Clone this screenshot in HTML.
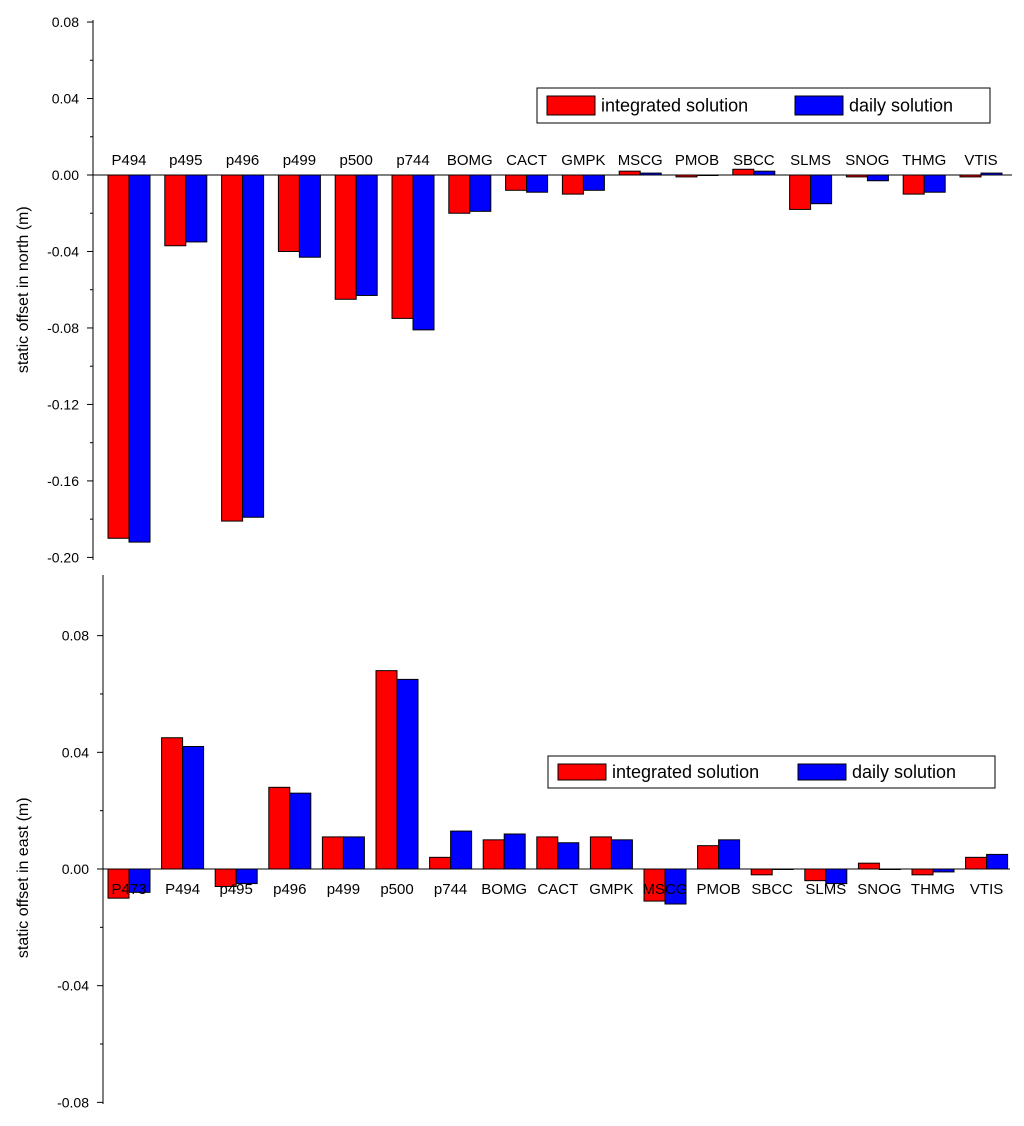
<!DOCTYPE html>
<html><head><meta charset="utf-8"><style>
html,body{margin:0;padding:0;background:#fff;}
svg text{font-family:"Liberation Sans",sans-serif;fill:#000;}
</style></head><body>
<svg id="chart" width="1024" height="1121" xmlns="http://www.w3.org/2000/svg"></svg>
<script>
const northStations=["P494","p495","p496","p499","p500","p744","BOMG","CACT","GMPK","MSCG","PMOB","SBCC","SLMS","SNOG","THMG","VTIS"];
const northIntegrated=[-0.190,-0.037,-0.181,-0.040,-0.065,-0.075,-0.020,-0.008,-0.010,0.002,-0.001,0.003,-0.018,-0.001,-0.010,-0.001];
const northDaily=[-0.192,-0.035,-0.179,-0.043,-0.063,-0.081,-0.019,-0.009,-0.008,0.001,0.0,0.002,-0.015,-0.003,-0.009,0.001];
const northTicks=[0.08,0.04,0.00,-0.04,-0.08,-0.12,-0.16,-0.20];
const eastStations=["P473","P494","p495","p496","p499","p500","p744","BOMG","CACT","GMPK","MSCG","PMOB","SBCC","SLMS","SNOG","THMG","VTIS"];
const eastIntegrated=[-0.010,0.045,-0.006,0.028,0.011,0.068,0.004,0.010,0.011,0.011,-0.011,0.008,-0.002,-0.004,0.002,-0.002,0.004];
const eastDaily=[-0.008,0.042,-0.005,0.026,0.011,0.065,0.013,0.012,0.009,0.010,-0.012,0.010,0.000,-0.005,0.000,-0.001,0.005];
const eastTicks=[0.08,0.04,0.00,-0.04,-0.08];

const svg=document.getElementById('chart');
const NS='http://www.w3.org/2000/svg';
function mk(tag,attrs,parent){const e=document.createElementNS(NS,tag);for(const k in attrs)e.setAttribute(k,attrs[k]);(parent||svg).appendChild(e);return e;}

function panel(cfg){
  const g=mk('g',{});
  
  
  const y=v=>cfg.y0-v*cfg.pxPer;
  const zl=mk('line',{x1:cfg.axisX,x2:cfg.right,y1:y(0),y2:y(0),stroke:'#000','stroke-width':1},g);
  
  
  const ax=mk('line',{x1:cfg.axisX,x2:cfg.axisX,y1:cfg.top,y2:cfg.bottom,stroke:'#000','stroke-width':1},g);
  
  
  cfg.ticks.forEach(t=>{
    mk('line',{x1:cfg.axisX-6,x2:cfg.axisX,y1:y(t),y2:y(t),stroke:'#000'},g);
    const tx=mk('text',{x:cfg.axisX-14,y:y(t)+5,'text-anchor':'end','font-size':14},g);
    tx.textContent=t.toFixed(2);
    
    
  });
  for(let i=0;i<cfg.ticks.length-1;i++){
    const m=(cfg.ticks[i]+cfg.ticks[i+1])/2;
    mk('line',{x1:cfg.axisX-3,x2:cfg.axisX,y1:y(m),y2:y(m),stroke:'#000'},g);
  }
  const yt=mk('text',{x:0,y:0,'text-anchor':'middle','font-size':16,transform:`translate(${cfg.titleX},${y(cfg.titleAt)}) rotate(-90)`},g);
  yt.textContent=cfg.title;
  
  
  cfg.stations.forEach((s,i)=>{
    const cx=cfg.first+i*cfg.step;
    const v1=cfg.a[i],v2=cfg.b[i];
    const r=mk('rect',{x:cx-cfg.bw,y:Math.min(y(0),y(v1)),width:cfg.bw,height:Math.max(0.5,Math.abs(y(v1)-y(0))),fill:'#ff0000',stroke:'#000','stroke-width':1},g);
    
    
    const b=mk('rect',{x:cx,y:Math.min(y(0),y(v2)),width:cfg.bw,height:Math.max(0.5,Math.abs(y(v2)-y(0))),fill:'#0000ff',stroke:'#000','stroke-width':1},g);
    
    
    const l=mk('text',{x:cx,y:y(0)+cfg.labelDy,'text-anchor':'middle','font-size':15},g);
    l.textContent=s;
    
    
  });
  const L=cfg.legend;
  const lg=mk('g',{},g);
  
  
  mk('rect',{x:L.x,y:L.y,width:L.w,height:L.h,fill:'#fff',stroke:'#000'},lg);
  const e1=mk('rect',{x:L.x+10,y:L.y+8,width:48,height:L.h-16,fill:'#ff0000',stroke:'#000'},lg);
  
  
  const t1=mk('text',{x:L.x+64,y:L.y+L.h/2+6,'font-size':18},lg);
  t1.textContent='integrated solution';
  
  
  const e2=mk('rect',{x:L.x+L.s2,y:L.y+8,width:48,height:L.h-16,fill:'#0000ff',stroke:'#000'},lg);
  
  
  const t2=mk('text',{x:L.x+L.s2+54,y:L.y+L.h/2+6,'font-size':18},lg);
  t2.textContent='daily solution';
  
  
}

panel({name:'north-panel',y0:175,pxPer:1912,axisX:93,right:1012,top:20,bottom:560,ticks:northTicks,
  title:'static offset in north (m)',titleX:28,titleAt:-0.06,stations:northStations,a:northIntegrated,b:northDaily,
  first:129,step:56.8,bw:21,labelDy:-10,legend:{x:537,y:88,w:453,h:35,s2:258}});
panel({name:'east-panel',y0:869,pxPer:2917,axisX:103,right:1010,top:575,bottom:1104,ticks:eastTicks,
  title:'static offset in east (m)',titleX:28,titleAt:-0.003,stations:eastStations,a:eastIntegrated,b:eastDaily,
  first:129,step:53.6,bw:21,labelDy:25,legend:{x:548,y:756,w:447,h:32,s2:250}});
</script>
</body></html>
